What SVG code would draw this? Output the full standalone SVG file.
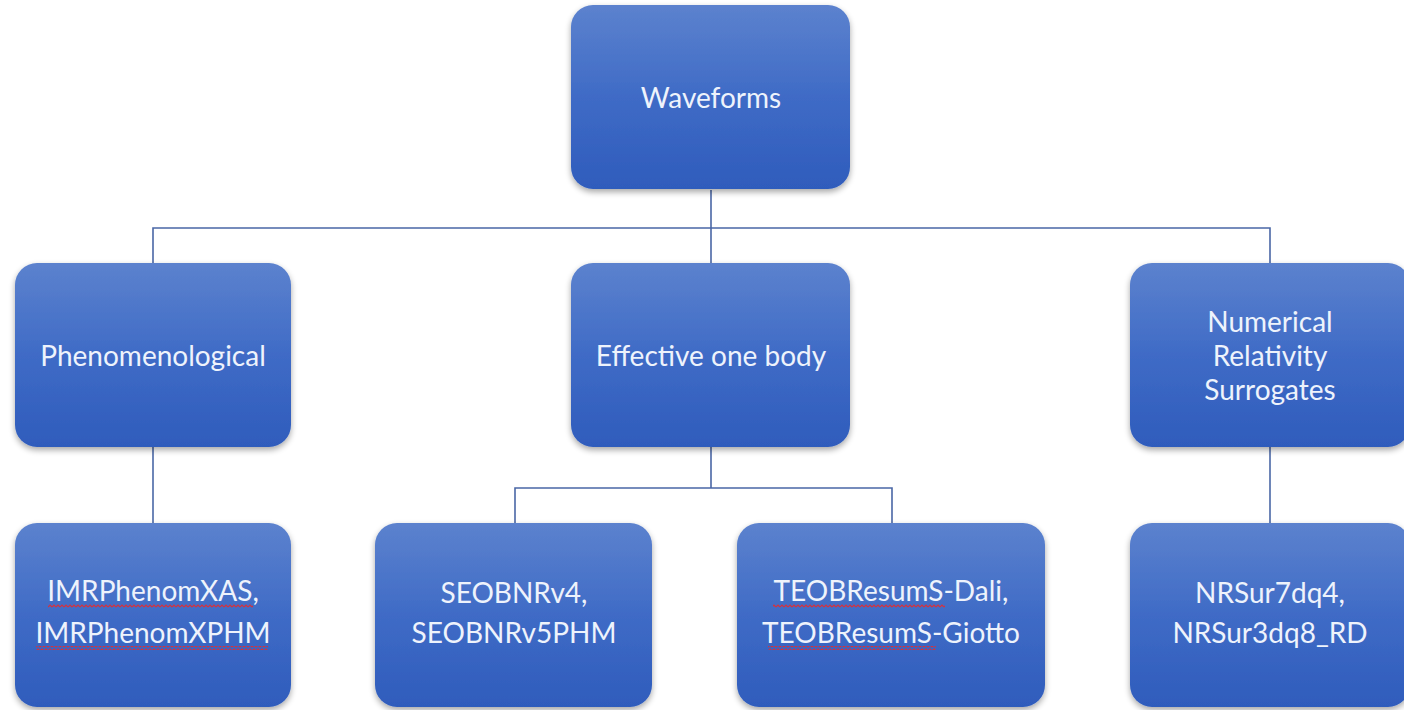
<svg xmlns="http://www.w3.org/2000/svg" width="1404" height="710" viewBox="0 0 1404 710">
<defs>
<linearGradient id="g" x1="0" y1="0" x2="0" y2="1">
<stop offset="0" stop-color="#5c82ce"/>
<stop offset="0.5" stop-color="#3f6bc6"/>
<stop offset="1" stop-color="#2f5cbc"/>
</linearGradient>
<filter id="sh" x="-10%" y="-10%" width="120%" height="125%">
<feGaussianBlur in="SourceAlpha" stdDeviation="3"/>
<feOffset dx="0" dy="3" result="b"/>
<feComponentTransfer><feFuncA type="linear" slope="0.35"/></feComponentTransfer>
<feMerge><feMergeNode/><feMergeNode in="SourceGraphic"/></feMerge>
</filter>
<pattern id="wv" x="0" y="0" width="4" height="4" patternUnits="userSpaceOnUse">
<path d="M0,3 L2,1 L4,3" fill="none" stroke="#d8303a" stroke-width="1.1"/>
</pattern>
</defs>
<style>
.box{fill:url(#g);filter:url(#sh)}
.t{font-family:Lato,"Open Sans","Liberation Sans",sans-serif;font-size:28px;fill:#eef3fc;text-anchor:middle;dominant-baseline:central}
.c{fill:none;stroke:#4a67a6;stroke-width:1.6}
.sq{fill:url(#wv)}
</style>
<rect width="1404" height="710" fill="#ffffff"/>
<g id="connectors">
<path class="c" d="M711,190 V228 M153,263 V228 H1270 V263 M711,228 V263"/>
<path class="c" d="M153,447 V523"/>
<path class="c" d="M711,447 V488 M515,523 V488 H892 V523"/>
<path class="c" d="M1270,447 V523"/>
</g>
<g id="waveforms">
<rect class="box" x="571" y="5" width="279" height="184" rx="22"/>
<text class="t" x="711" y="97">Waveforms</text>
</g>
<g id="phenomenological">
<rect class="box" x="15" y="263" width="276" height="184" rx="22"/>
<text class="t" x="153" y="355">Phenomenological</text>
</g>
<g id="eob">
<rect class="box" x="571" y="263" width="279" height="184" rx="22"/>
<text class="t" x="711" y="355">Effective one body</text>
</g>
<g id="nr">
<rect class="box" x="1130" y="263" width="280" height="184" rx="22"/>
<text class="t" x="1270" y="321">Numerical</text>
<text class="t" x="1270" y="355">Relativity</text>
<text class="t" x="1270" y="389">Surrogates</text>
</g>
<g id="imr">
<rect class="box" x="15" y="523" width="276" height="184" rx="22"/>
<text class="t" x="153" y="590">IMRPhenomXAS,</text>
<text class="t" x="153" y="632">IMRPhenomXPHM</text>
<rect class="sq" x="48" y="604" width="205" height="4"/>
<rect class="sq" x="36" y="646" width="232" height="4"/>
</g>
<g id="seobnr">
<rect class="box" x="375" y="523" width="277" height="184" rx="22"/>
<text class="t" x="514" y="592">SEOBNRv4,</text>
<text class="t" x="514" y="632">SEOBNRv5PHM</text>
</g>
<g id="teob">
<rect class="box" x="737" y="523" width="308" height="184" rx="22"/>
<text class="t" x="891" y="590">TEOBResumS-Dali,</text>
<text class="t" x="891" y="632">TEOBResumS-Giotto</text>
<rect class="sq" x="773" y="604" width="172" height="4"/>
<rect class="sq" x="768" y="646" width="168" height="4"/>
</g>
<g id="nrsur">
<rect class="box" x="1130" y="523" width="280" height="184" rx="22"/>
<text class="t" x="1270" y="592">NRSur7dq4,</text>
<text class="t" x="1270" y="632">NRSur3dq8_RD</text>
</g>
</svg>
